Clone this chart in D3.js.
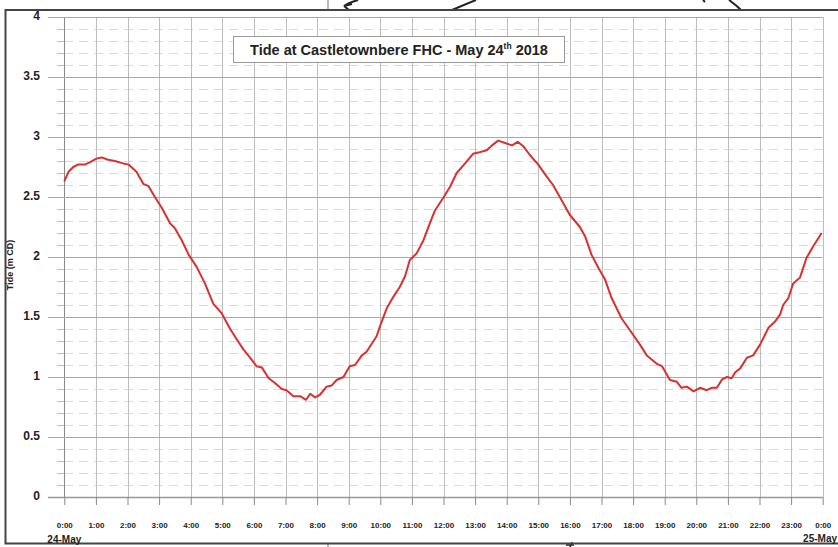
<!DOCTYPE html>
<html><head><meta charset="utf-8">
<script src="https://cdn.jsdelivr.net/npm/d3@7"></script>
<style>
body{margin:0;background:#fff;}
svg{display:block;font-family:"Liberation Sans",Arial,Helvetica,sans-serif;}
</style>
</head><body>
<svg id="c" width="838" height="547"></svg>
<script>
// ---- data (minutes after midnight, tide height in m CD) ----
const minutes = [0,8,17,26,39,49,61,71,83,96,112,122,137,150,160,172,185,201,210,223,236,251,267,283,299,
  315,328,340,353,365,375,388,400,413,422,435,448,459,467,476,485,498,508,517,530,542,552,565,574,593,
  600,612,625,637,647,656,669,682,694,704,719,733,745,761,776,786,802,812,824,837,850,861,872,884,900,
  916,928,944,960,979,989,1001,1014,1027,1039,1058,1074,1093,1106,1125,1135,1150,1163,1172,1182,1195,
  1207,1220,1229,1239,1249,1258,1267,1274,1283,1296,1308,1321,1337,1349,1359,1365,1375,1384,1397,1409,1422,1438];
const tideM = [2.63,2.71,2.75,2.77,2.77,2.79,2.82,2.83,2.81,2.80,2.78,2.77,2.71,2.61,2.59,2.50,2.41,2.28,2.24,2.14,2.02,1.92,1.78,1.61,1.53,
  1.40,1.31,1.23,1.16,1.09,1.08,0.99,0.95,0.90,0.89,0.84,0.84,0.81,0.86,0.83,0.85,0.92,0.93,0.975,1.00,1.09,1.10,1.18,1.21,1.34,
  1.43,1.57,1.67,1.75,1.84,1.975,2.03,2.14,2.28,2.39,2.49,2.59,2.70,2.78,2.86,2.87,2.89,2.93,2.97,2.95,2.93,2.96,2.92,2.85,2.77,
  2.67,2.60,2.475,2.35,2.25,2.17,2.02,1.91,1.81,1.66,1.49,1.39,1.27,1.18,1.11,1.09,0.975,0.96,0.91,0.92,0.88,
  0.91,0.89,0.91,0.91,0.98,1.00,0.99,1.04,1.07,1.16,1.18,1.27,1.41,1.46,1.52,1.60,1.66,1.78,1.83,1.99,2.09,2.20];
const hourTicks = [0,60,120,180,240,300,360,420,480,540,600,660,720,780,840,900,960,1020,1080,1140,1200,1260,1320,1380,1440];
const hourLabels = ["0:00","1:00","2:00","3:00","4:00","5:00","6:00","7:00","8:00","9:00","10:00","11:00",
  "12:00","13:00","14:00","15:00","16:00","17:00","18:00","19:00","20:00","21:00","22:00","23:00","0:00"];
const yMajor = [0,0.5,1,1.5,2,2.5,3,3.5,4];
const yMajorLabels = ["0","0.5","1","1.5","2","2.5","3","3.5","4"];
const yMinor = [0.1,0.2,0.3,0.4,0.6,0.7,0.8,0.9,1.1,1.2,1.3,1.4,1.6,1.7,1.8,1.9,2.1,2.2,2.3,2.4,
  2.6,2.7,2.8,2.9,3.1,3.2,3.3,3.4,3.6,3.7,3.8,3.9];
const dateLabels = ["24-May","25-May"];
const titleParts = ["Tide at Castletownbere FHC - May 24","th"," 2018"];
const yTitle = "Tide (m CD)";

// ---- scales ----
const x = d3.scaleLinear().domain([0,1440]).range([64.3,822.7]);
const y = d3.scaleLinear().domain([0,4]).range([497,17]);

const svg = d3.select("#c");
svg.append("rect").attr("width",838).attr("height",547).attr("fill","#fff");

// scan decorations above / below the frame
const deco = svg.append("g").attr("fill","none").attr("stroke","#222").attr("stroke-width",2);
deco.append("line").attr("x1",328).attr("x2",328).attr("y1",0).attr("y2",10).attr("stroke-width",1).attr("stroke","#777");
deco.append("line").attr("x1",328).attr("x2",328).attr("y1",543).attr("y2",547).attr("stroke-width",1).attr("stroke","#777");
deco.append("path").attr("d","M358,0 Q348,3 344,6 M344,6 L352,4 M344,6 L349,10");
deco.append("path").attr("d","M452,10 Q466,4 476,0");
deco.append("path").attr("d","M703,0 L705,2");
deco.append("path").attr("d","M729,0 Q736,5 741,10");
deco.append("path").attr("d","M570,547 L572,542 M566,545 L574,545").attr("stroke-width",1.5);

// frame
svg.append("rect").attr("x",5.5).attr("y",10).attr("width",840).attr("height",533.5)
  .attr("fill","none").attr("stroke","#444").attr("stroke-width",2);

// minor horizontal gridlines (dashed) + short ticks
const gMinor = svg.append("g");
gMinor.selectAll("line.md").data(yMinor).join("line").attr("class","md")
  .attr("x1",64).attr("x2",x(1440)).attr("y1",d=>Math.round(y(d))+0.5).attr("y2",d=>Math.round(y(d))+0.5)
  .attr("stroke","#dadada").attr("stroke-width",1).attr("stroke-dasharray","9,6");
gMinor.selectAll("line.mt").data(yMinor).join("line").attr("class","mt")
  .attr("x1",57).attr("x2",64).attr("y1",d=>Math.round(y(d))+0.5).attr("y2",d=>Math.round(y(d))+0.5)
  .attr("stroke","#bbb").attr("stroke-width",1);

// vertical hour gridlines
svg.append("g").selectAll("line").data(hourTicks).join("line")
  .attr("x1",d=>Math.round(x(d))+0.5).attr("x2",d=>Math.round(x(d))+0.5)
  .attr("y1",y(4)).attr("y2",y(0))
  .attr("stroke",(d,i)=> i===0 ? "#888" : "#bdbdbd").attr("stroke-width",1);

// major horizontal gridlines
svg.append("g").selectAll("line").data(yMajor).join("line")
  .attr("x1",48).attr("x2",x(1440)).attr("y1",d=>Math.round(y(d))+0.5).attr("y2",d=>Math.round(y(d))+0.5)
  .attr("stroke",d=> d===0 ? "#999" : "#a8a8a8").attr("stroke-width",d=> d===0 ? 1.5 : 1);

// y axis labels
const yAxis = d3.axisLeft(y).tickValues(yMajor).tickFormat((d,i)=>yMajorLabels[i]).tickSize(0).tickPadding(24);
const gy = svg.append("g").attr("transform","translate(64,0)").call(yAxis);
gy.select(".domain").remove();
gy.selectAll("text").attr("font-size",12).attr("font-weight","bold").attr("fill","#222")
  .attr("font-family","'Liberation Sans',Arial,sans-serif").attr("dy","0.2em");

// x axis
const xAxis = d3.axisBottom(x).tickValues(hourTicks).tickFormat((d,i)=>hourLabels[i]).tickSize(8).tickPadding(0);
const gx = svg.append("g").attr("transform","translate(0,497)").call(xAxis);
gx.select(".domain").remove();
gx.selectAll(".tick line").attr("stroke","#888");
gx.selectAll("text").attr("font-size",8).attr("font-weight","bold").attr("fill","#222")
  .attr("font-family","'Liberation Sans',Arial,sans-serif").attr("y",31).attr("dy",0);

// date labels
svg.append("text").attr("x",x(0)).attr("y",543).attr("text-anchor","middle")
  .attr("font-size",10).attr("font-weight","bold").attr("fill","#222").text(dateLabels[0]);
svg.append("text").attr("x",837).attr("y",542).attr("text-anchor","end")
  .attr("font-size",10).attr("font-weight","bold").attr("fill","#222").text(dateLabels[1]);

// y title
svg.append("text").attr("transform",`translate(13,${(y(4)+y(0))/2+8}) rotate(-90)`)
  .attr("text-anchor","middle").attr("font-size",9).attr("font-weight","bold").attr("fill","#222").text(yTitle);

// tide line
const line = d3.line().x((d,i)=>x(minutes[i])).y(d=>y(d));
svg.append("path").datum(tideM).attr("d",line).attr("fill","none")
  .attr("stroke","#d8312f").attr("stroke-width",2).attr("stroke-linejoin","round");

// title box
svg.append("rect").attr("x",233.5).attr("y",36.5).attr("width",331).attr("height",26)
  .attr("fill","#fff").attr("stroke","#9a9a9a").attr("stroke-width",1);
const tt = svg.append("text").attr("x",399).attr("y",54.5).attr("text-anchor","middle")
  .attr("font-size",14.5).attr("font-weight","bold").attr("fill","#222");
tt.append("tspan").text(titleParts[0]);
tt.append("tspan").attr("font-size",8.5).attr("dy",-5.5).text(titleParts[1]);
tt.append("tspan").attr("dy",5.5).text(titleParts[2]);
</script>
</body></html>
